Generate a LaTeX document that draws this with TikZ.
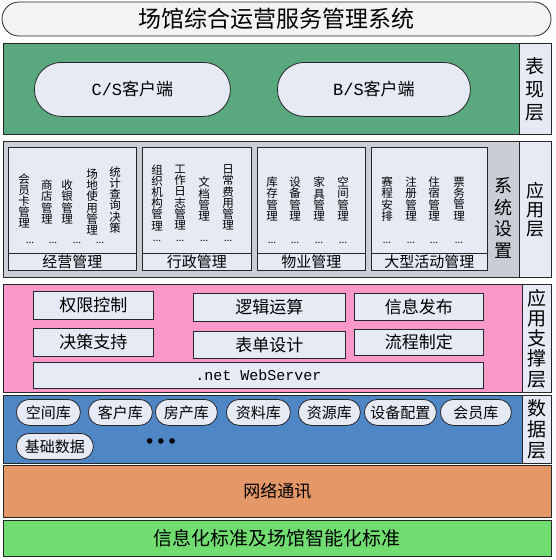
\documentclass[tikz,border=0pt]{standalone}
\usepackage{fontspec}
\setmainfont{Noto Sans CJK SC}
\newfontfamily\monofont{Liberation Mono}
\newfontfamily\dejavu{DejaVu Sans}
\definecolor{cGreen}{RGB}{90,168,126}
\definecolor{cPale}{RGB}{230,234,244}
\definecolor{cGray}{RGB}{200,205,214}
\definecolor{cPink}{RGB}{250,152,202}
\definecolor{cBlue}{RGB}{79,134,198}
\definecolor{cOrange}{RGB}{228,152,104}
\definecolor{cLime}{RGB}{113,221,113}
\definecolor{cTitle}{RGB}{243,243,243}
\newcommand\fsz[2]{\fontsize{#1}{#2}\selectfont}
\begin{document}
\begin{tikzpicture}[x=1pt,y=-1pt,
  bx/.style={draw=black!85, line width=0.8pt, inner sep=0pt, anchor=north west, align=center},
  lbl/.style={bx, fill=cPale, font=\fsz{19}{21}},
  modbox/.style={bx, fill=cPale, minimum height=123pt},
  strip/.style={bx, fill=cPale, minimum height=17pt, font=\fsz{15}{15}},
  colA/.style={align=center, inner sep=0pt, anchor=center, font=\fsz{11.5}{11.2}},
  dots/.style={inner sep=0pt, font=\fsz{10}{10}},
  pbox/.style={bx, fill=cPale, font=\fsz{17}{17}},
  dpill/.style={bx, fill=cPale, rounded corners=13pt, minimum height=26pt, font=\fsz{15}{15}},
  bigpill/.style={bx, fill=cPale, rounded corners=27pt, minimum height=54pt, font=\fsz{17}{17}}
]
\useasboundingbox (0,0) rectangle (555,560);

% title
\node[draw=black!85, line width=0.8pt, fill=cTitle, rounded corners=17pt, minimum width=549pt, minimum height=34pt, inner sep=0pt, font=\fsz{23}{23}] (title) at (276.5,19) {场馆综合运营服务管理系统};

% presentation layer
\node[bx, fill=cGreen, minimum width=516pt, minimum height=91pt] (pres) at (3,43) {};
\node[lbl, minimum width=32pt, minimum height=91pt, font=\fsz{19}{23}] (preslbl) at (519,43) {表\\现\\层};
\node[bigpill, minimum width=196pt] (cs) at (34,62) {{\monofont C/S}客户端};
\node[bigpill, minimum width=193pt] (bs) at (277,62) {{\monofont B/S}客户端};

% application layer
\node[bx, fill=cGray, minimum width=516pt, minimum height=136pt] (app) at (3,141) {};
\node[lbl, minimum width=32pt, minimum height=136pt, font=\fsz{18}{19}] (applbl) at (519,141) {应\\用\\层};
\node[inner sep=0pt, align=center, font=\fsz{18}{21.5}] (sys) at (503,218) {系\\统\\设\\置};

\node[modbox, minimum width=128pt] (m1) at (8,147) {};
\node[strip, minimum width=128pt] (s1) at (8,253) {经营管理};
\node[modbox, minimum width=109pt] (m2) at (142,147) {};
\node[strip, minimum width=109pt] (s2) at (142,253) {行政管理};
\node[modbox, minimum width=108pt] (m3) at (257,147) {};
\node[strip, minimum width=108pt] (s3) at (257,253) {物业管理};
\node[modbox, minimum width=116pt] (m4) at (371,147) {};
\node[strip, minimum width=116pt] (s4) at (371,253) {大型活动管理};

% module 1
\node[colA] (a1) at (24,201) {会\\员\\卡\\管\\理};
\node[colA] (a2) at (47,202) {商\\店\\管\\理};
\node[colA] (a3) at (67,202) {收\\银\\管\\理};
\node[colA] (a4) at (92,202) {场\\地\\使\\用\\管\\理};
\node[colA] (a5) at (115,200) {统\\计\\查\\询\\决\\策};
\node[dots] (ad1) at (30,243) {...};
\node[dots] (ad2) at (53,243) {...};
\node[dots] (ad3) at (77,243) {...};
\node[dots] (ad4) at (100,243) {...};
% module 2
\node[colA] (b1) at (157,197.5) {组\\织\\机\\构\\管\\理};
\node[colA] (b2) at (180,197.5) {工\\作\\日\\志\\管\\理};
\node[colA] (b3) at (204,199) {文\\档\\管\\理};
\node[colA] (b4) at (228,197.5) {日\\常\\费\\用\\管\\理};
\node[dots] (bd1) at (157,241) {...};
\node[dots] (bd2) at (180,241) {...};
\node[dots] (bd3) at (204,241) {...};
\node[dots] (bd4) at (228,241) {...};
% module 3
\node[colA] (c1) at (272,199) {库\\存\\管\\理};
\node[colA] (c2) at (295,199) {设\\备\\管\\理};
\node[colA] (c3) at (319,199) {家\\具\\管\\理};
\node[colA] (c4) at (343,199) {空\\间\\管\\理};
\node[dots] (cd1) at (272,243) {...};
\node[dots] (cd2) at (295,243) {...};
\node[dots] (cd3) at (319,243) {...};
\node[dots] (cd4) at (343,243) {...};
% module 4
\node[colA] (e1) at (387,199) {赛\\程\\安\\排};
\node[colA] (e2) at (411,199) {注\\册\\管\\理};
\node[colA] (e3) at (434,199) {住\\宿\\管\\理};
\node[colA] (e4) at (459,199) {票\\务\\管\\理};
\node[dots] (ed1) at (387,243) {...};
\node[dots] (ed2) at (411,243) {...};
\node[dots] (ed3) at (434,243) {...};
\node[dots] (ed4) at (459,243) {...};

% application support layer
\node[bx, fill=cPink, minimum width=519pt, minimum height=108pt] (sup) at (3,284) {};
\node[lbl, minimum width=29pt, minimum height=108pt, font=\fsz{19}{20.2}] (suplbl) at (522,284) {应\\用\\支\\撑\\层};
\node[pbox, minimum width=120pt, minimum height=28pt] (p1) at (33,291) {权限控制};
\node[pbox, minimum width=152pt, minimum height=28pt] (p2) at (193,293) {逻辑运算};
\node[pbox, minimum width=129pt, minimum height=27pt] (p3) at (354,293) {信息发布};
\node[pbox, minimum width=120pt, minimum height=28pt] (p4) at (33,328) {决策支持};
\node[pbox, minimum width=152pt, minimum height=27pt] (p5) at (193,331) {表单设计};
\node[pbox, minimum width=129pt, minimum height=26pt] (p6) at (354,329) {流程制定};
\node[pbox, minimum width=450pt, minimum height=26pt, font=\monofont\fsz{15}{15}] (ws) at (33,362) {.net WebServer};

% data layer
\node[bx, fill=cBlue, minimum width=519pt, minimum height=68pt] (data) at (3,395) {};
\node[lbl, minimum width=29pt, minimum height=68pt, font=\fsz{19}{21}] (datalbl) at (522,395) {数\\据\\层};
\node[dpill, minimum width=64pt] (d1) at (16,399) {空间库};
\node[dpill, minimum width=64pt] (d2) at (88,399) {客户库};
\node[dpill, minimum width=62pt] (d3) at (155,399) {房产库};
\node[dpill, minimum width=64pt] (d4) at (226,399) {资料库};
\node[dpill, minimum width=62pt] (d5) at (298,399) {资源库};
\node[dpill, minimum width=72pt] (d6) at (364,399) {设备配置};
\node[dpill, minimum width=71pt] (d7) at (440,399) {会员库};
\node[dpill, minimum width=77pt] (d8) at (16,433) {基础数据};
\node[inner sep=0pt, font=\dejavu\fsz{19}{19}] (more) at (161,444) {•••};

% network
\node[bx, fill=cOrange, minimum width=548pt, minimum height=52pt, font=\fsz{17}{17}] (net) at (3,465) {网络通讯};
% standards
\node[bx, fill=cLime, minimum width=548pt, minimum height=36pt, font=\fsz{19}{19}] (std) at (3,520) {信息化标准及场馆智能化标准};
\end{tikzpicture}
\end{document}
